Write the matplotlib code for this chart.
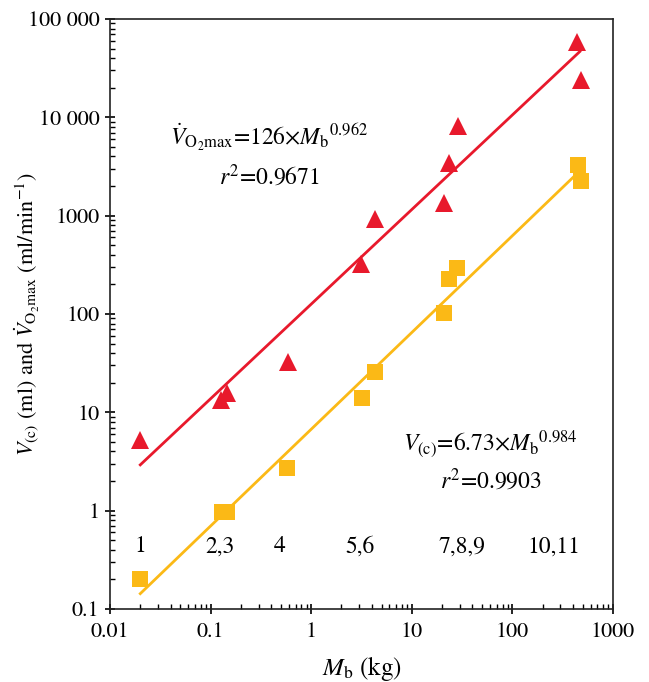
import matplotlib
matplotlib.use('Agg')
import matplotlib.pyplot as plt
import numpy as np
from matplotlib.ticker import LogLocator, FixedLocator, FixedFormatter, NullFormatter

plt.rcParams['font.family'] = 'STIXGeneral'
plt.rcParams['mathtext.fontset'] = 'stix'

# body mass (kg) of species 1..11
mass = [0.02, 0.127, 0.146, 0.59, 3.16, 4.35, 20.7, 23.3, 28.5, 443, 480]
# VO2max (ml/min)
vo2max = [5.2, 13.5, 15.6, 32.2, 322, 931, 1335, 3400, 8170, 58700, 24000]
# capillary volume V(c) (ml)
mass_vc = [0.02, 0.129, 0.146, 0.575, 3.2, 4.3, 20.8, 23.3, 28.0, 450, 480]
vc = [0.2, 0.97, 0.98, 2.69, 13.9, 25.9, 102, 229, 294, 3275, 2250]

# allometric fits
vo2_coef, vo2_exp = 126, 0.962
vc_coef, vc_exp = 6.73, 0.984
fit_range = [0.02, 468]

species_labels = ['1', '2,3', '4', '5,6', '7,8,9', '10,11']
species_label_x = [0.02, 0.124, 0.49, 3.04, 31.4, 260]

ytick_vals = [0.1, 1, 10, 100, 1000, 10000, 100000]
ytick_labels = ['0.1', '1', '10', '100', '1000', '10 000', '100 000']
xtick_vals = [0.01, 0.1, 1, 10, 100, 1000]
xtick_labels = ['0.01', '0.1', '1', '10', '100', '1000']

red = '#E8192C'
yellow = '#FBB916'

fig = plt.figure(figsize=(6.49, 6.82), dpi=100)
ax = fig.add_axes([110 / 649, 73 / 682, 503 / 649, 590 / 682])

xf = np.logspace(np.log10(fit_range[0]), np.log10(fit_range[1]), 50)
ax.plot(xf, vo2_coef * xf ** vo2_exp, color=red, lw=2, zorder=2)
ax.plot(xf, vc_coef * xf ** vc_exp, color=yellow, lw=2, zorder=2)

ax.plot(mass, vo2max, '^', color=red, ms=12.5, mew=0, zorder=3)
ax.plot(mass_vc, vc, 's', color=yellow, ms=11, mew=0, zorder=3)

ax.set_xscale('log')
ax.set_yscale('log')
ax.set_xlim(0.01, 1000)
ax.set_ylim(0.1, 100000)

ax.xaxis.set_major_locator(FixedLocator(xtick_vals))
ax.xaxis.set_major_formatter(FixedFormatter(xtick_labels))
ax.yaxis.set_major_locator(FixedLocator(ytick_vals))
ax.yaxis.set_major_formatter(FixedFormatter(ytick_labels))
for axis in (ax.xaxis, ax.yaxis):
    axis.set_minor_locator(LogLocator(base=10, subs=np.arange(2, 10), numticks=20))
    axis.set_minor_formatter(NullFormatter())

ax.tick_params(which='major', direction='inout', length=7, width=1.2, labelsize=16)
ax.tick_params(axis='x', which='major', pad=6)
ax.tick_params(axis='y', which='major', pad=4)
ax.tick_params(which='minor', direction='in', length=3.5, width=1)
for s in ax.spines.values():
    s.set_linewidth(1.2)
    s.set_color('#222222')

ax.set_xlabel(r'$M_\mathrm{b}$ (kg)', fontsize=18, labelpad=9)
ax.set_ylabel(r'$V_{\mathrm{(c)}}$ (ml) and $\dot{V}_{\mathrm{O_2max}}$ (ml/min$^{-1}$)',
              fontsize=16)
ax.yaxis.set_label_coords(-0.135, 0.5)

ax.text(0.316, 0.80, r'$\dot{V}_{\mathrm{O_2max}}$=126×${M_\mathrm{b}}^{0.962}$',
        transform=ax.transAxes, ha='center', va='center', fontsize=17)
ax.text(0.316, 0.733, r'$r^2$=0.9671', transform=ax.transAxes,
        ha='center', va='center', fontsize=17)
ax.text(0.757, 0.28, r'$V_{\mathrm{(c)}}$=6.73×${M_\mathrm{b}}^{0.984}$',
        transform=ax.transAxes, ha='center', va='center', fontsize=17)
ax.text(0.757, 0.218, r'$r^2$=0.9903', transform=ax.transAxes,
        ha='center', va='center', fontsize=17)

for lab, lx in zip(species_labels, species_label_x):
    ax.text(lx, 0.43, lab, ha='center', va='center', fontsize=17)

fig.savefig('out.png', dpi=100)
